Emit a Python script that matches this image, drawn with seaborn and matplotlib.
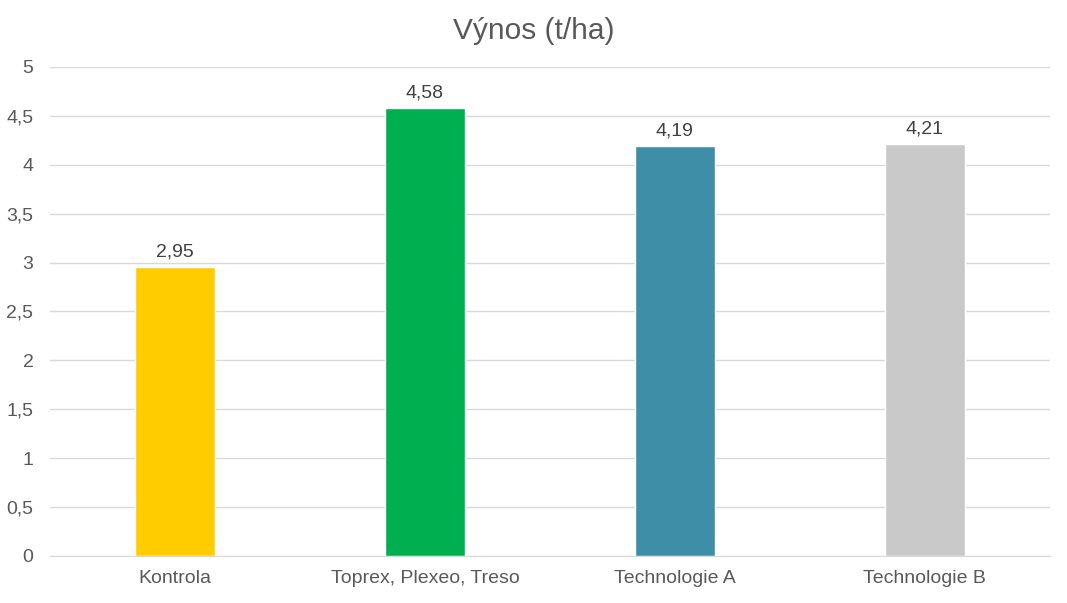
import matplotlib
matplotlib.use('Agg')
import pandas as pd
import matplotlib.pyplot as plt
import seaborn as sns

categories = ['Kontrola', 'Toprex, Plexeo, Treso', 'Technologie A', 'Technologie B']
values = [2.95, 4.58, 4.19, 4.21]
colors = ['#FFCC00', '#00B050', '#3E8EA8', '#C9C9C9']
yticks = [0, 0.5, 1, 1.5, 2, 2.5, 3, 3.5, 4, 4.5, 5]

data = pd.DataFrame({'kategorie': categories, 'vynos': values})

sns.set_style('white')
plt.rcParams['font.family'] = ['Liberation Sans', 'DejaVu Sans']

fig = plt.figure(figsize=(10.67, 6.03), dpi=100)
ax = fig.add_axes([0.0469, 0.078, 0.937, 0.811])

sns.barplot(data=data, x='kategorie', y='vynos', hue='kategorie', palette=colors,
            legend=False, width=0.32, saturation=1, ax=ax)

ax.set_ylim(0, 5)
ax.set_xlim(-0.5, 3.5)
ax.set_yticks(yticks)
ax.set_yticklabels([f'{t:g}'.replace('.', ',') for t in yticks])
ax.yaxis.grid(True, color='#D9D9D9', linewidth=1)
ax.set_axisbelow(True)
ax.tick_params(axis='both', length=0, labelsize=14, colors='#595959')
ax.tick_params(axis='x', pad=10)
ax.tick_params(axis='y', pad=12)
for s in ['top', 'right', 'left']:
    ax.spines[s].set_visible(False)
ax.spines['bottom'].set_color('#D9D9D9')
ax.set_xlabel('')
ax.set_ylabel('')

for cont in ax.containers:
    ax.bar_label(cont, labels=[f'{v:.2f}'.replace('.', ',') for v in cont.datavalues],
                 padding=5, fontsize=14, color='#404040')

fig.suptitle('Výnos (t/ha)', y=0.972, fontsize=21.5, color='#595959')
fig.savefig('out.png', dpi=100)
